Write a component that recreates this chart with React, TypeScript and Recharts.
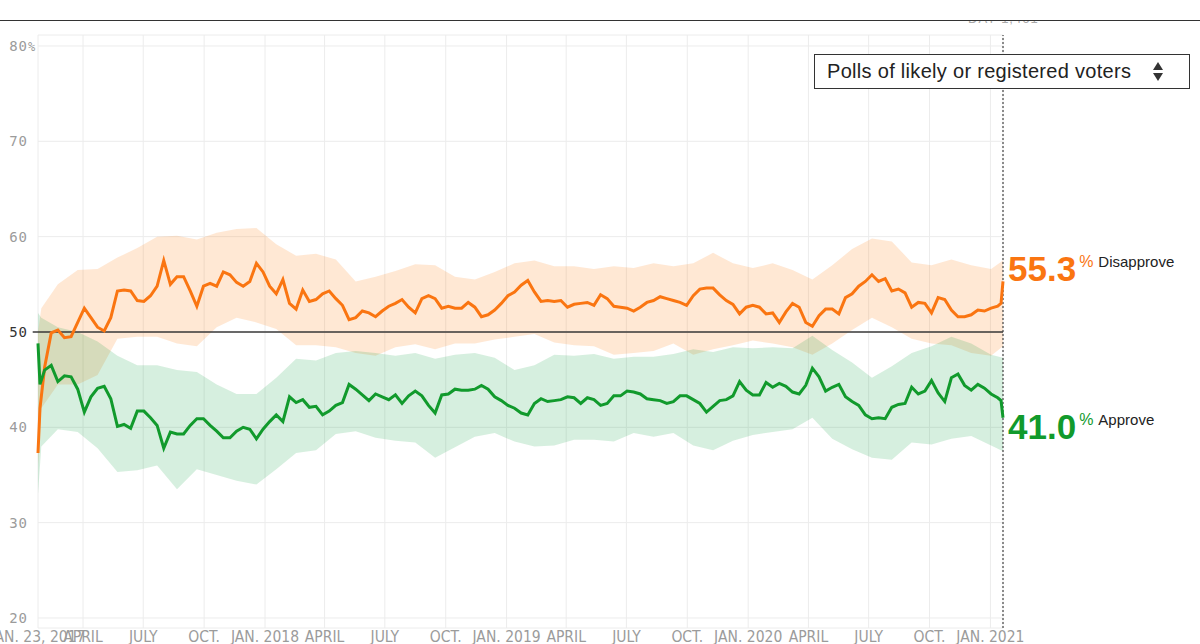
import { ComposedChart, Line, Area, XAxis, YAxis, CartesianGrid, ReferenceLine, ReferenceDot } from "recharts";

// days since Jan. 23, 2017
const lineDays = [
  0, 3, 10, 20, 30, 40, 50, 60, 70, 80,
  90, 100, 110, 120, 130, 140, 150, 160, 170, 180,
  190, 200, 210, 220, 230, 240, 250, 260, 270, 280,
  290, 300, 310, 320, 330, 340, 350, 360, 370, 380,
  390, 400, 410, 420, 430, 440, 450, 460, 470, 480,
  490, 500, 510, 520, 530, 540, 550, 560, 570, 580,
  590, 600, 610, 620, 630, 640, 650, 660, 670, 680,
  690, 700, 710, 720, 730, 740, 750, 760, 770, 780,
  790, 800, 810, 820, 830, 840, 850, 860, 870, 880,
  890, 900, 910, 920, 930, 940, 950, 960, 970, 980,
  990, 1000, 1010, 1020, 1030, 1040, 1050, 1060, 1070, 1080,
  1090, 1100, 1110, 1120, 1130, 1140, 1150, 1160, 1170, 1180,
  1190, 1200, 1210, 1220, 1230, 1240, 1250, 1260, 1270, 1280,
  1290, 1300, 1310, 1320, 1330, 1340, 1350, 1360, 1370, 1380,
  1390, 1400, 1410, 1420, 1430, 1440, 1450, 1455, 1458,
];

const disapprove = [
  37.3, 42.0, 46.3, 49.9, 50.2, 49.4, 49.5, 51.0, 52.5, 51.5,
  50.5, 50.1, 51.5, 54.3, 54.4, 54.3, 53.3, 53.2, 53.8, 54.8,
  57.5, 55.0, 55.8, 55.8, 54.3, 52.7, 54.8, 55.1, 54.8, 56.3,
  56.0, 55.2, 54.8, 55.3, 57.2, 56.3, 54.8, 54.0, 55.5, 53.0,
  52.4, 54.4, 53.2, 53.4, 54.0, 54.3, 53.5, 52.8, 51.3, 51.5,
  52.2, 52.0, 51.6, 52.2, 52.7, 53.0, 53.4, 52.6, 52.0, 53.5,
  53.8, 53.5, 52.5, 52.7, 52.5, 52.5, 53.1, 52.6, 51.6, 51.8,
  52.3, 53.0, 53.8, 54.2, 54.9, 55.4, 54.2, 53.2, 53.3, 53.2,
  53.3, 52.6, 52.9, 53.0, 53.1, 52.8, 53.9, 53.5, 52.7, 52.6,
  52.5, 52.2, 52.6, 53.1, 53.3, 53.7, 53.5, 53.3, 53.1, 52.8,
  53.8, 54.5, 54.6, 54.6, 53.9, 53.3, 52.9, 51.9, 52.6, 52.8,
  52.6, 51.9, 52.0, 51.0, 52.1, 53.0, 52.6, 51.0, 50.6, 51.7,
  52.4, 52.4, 51.9, 53.6, 54.0, 54.8, 55.3, 56.0, 55.3, 55.6,
  54.3, 54.5, 54.1, 52.6, 53.1, 53.0, 52.0, 53.6, 53.4, 52.3,
  51.6, 51.6, 51.8, 52.3, 52.2, 52.5, 52.7, 53.0, 55.3,
];

const approve = [
  48.8, 44.5, 46.0, 46.5, 44.8, 45.4, 45.3, 44.0, 41.6, 43.2,
  44.1, 44.3, 43.0, 40.1, 40.3, 39.9, 41.7, 41.7, 41.0, 40.2,
  37.8, 39.5, 39.3, 39.3, 40.2, 40.9, 40.9, 40.2, 39.6, 38.9,
  38.9, 39.6, 40.0, 39.8, 38.8, 39.8, 40.6, 41.3, 40.6, 43.2,
  42.6, 42.9, 42.1, 42.2, 41.3, 41.7, 42.3, 42.6, 44.5, 44.0,
  43.4, 42.8, 43.5, 43.2, 42.9, 43.4, 42.5, 43.3, 43.8, 43.3,
  42.3, 41.5, 43.4, 43.5, 44.0, 43.9, 43.9, 44.0, 44.4, 44.0,
  43.2, 42.8, 42.3, 42.0, 41.5, 41.3, 42.5, 43.0, 42.7, 42.8,
  42.9, 43.2, 43.1, 42.5, 43.1, 42.9, 42.3, 42.5, 43.3, 43.3,
  43.8, 43.7, 43.5, 43.0, 42.9, 42.8, 42.5, 42.7, 43.3, 43.3,
  42.9, 42.5, 41.6, 42.2, 42.8, 42.9, 43.3, 44.8, 43.9, 43.4,
  43.4, 44.7, 44.2, 44.6, 44.3, 43.7, 43.5, 44.4, 46.2, 45.3,
  43.8, 44.2, 44.5, 43.2, 42.7, 42.3, 41.3, 40.9, 41.0, 40.9,
  42.1, 42.4, 42.5, 44.2, 43.5, 43.8, 44.9, 43.6, 42.7, 45.2,
  45.6, 44.4, 43.9, 44.5, 44.1, 43.5, 43.1, 42.8, 41.0,
];

// uncertainty bands, coarser sampling
const bandDays = [
  0, 5, 30, 60, 90, 120, 150, 180, 210, 240, 270,
  300, 330, 360, 390, 420, 450, 480, 510, 540, 570,
  600, 630, 660, 690, 720, 750, 780, 810, 840, 870,
  900, 930, 960, 990, 1020, 1050, 1080, 1110, 1140, 1170,
  1200, 1230, 1260, 1290, 1320, 1350, 1380, 1410, 1440, 1458,
];

const disapproveHigh = [
  50.0, 52.5, 55.0, 56.5, 56.6, 57.8, 58.8, 60.0, 60.1, 59.7, 60.4,
  60.8, 60.9, 59.2, 58.0, 58.2, 57.6, 55.3, 55.8, 56.4, 57.1,
  57.0, 55.8, 55.5, 56.3, 57.2, 57.5, 56.9, 56.9, 56.6, 56.9,
  56.7, 57.2, 56.9, 57.2, 58.3, 57.2, 56.7, 57.2, 56.5, 55.5,
  57.0, 58.7, 59.8, 59.5, 57.3, 57.0, 57.6, 57.0, 56.6, 57.5,
];

const disapproveLow = [
  36.0, 42.0, 44.5, 44.5, 45.5, 49.3, 49.5, 49.5, 48.8, 48.5, 50.5,
  51.5, 51.0, 50.3, 48.6, 48.6, 48.4, 47.8, 47.5, 48.4, 48.7,
  48.2, 48.8, 48.8, 49.2, 49.5, 49.8, 48.9, 48.6, 48.5, 47.6,
  47.8, 48.0, 48.8, 47.6, 48.2, 48.6, 49.1, 48.8, 48.4, 47.6,
  48.8, 50.2, 51.5, 50.5, 49.3, 48.8, 48.6, 47.8, 47.5, 48.5,
];

const approveHigh = [
  52.0, 51.5, 50.5, 50.0, 49.0, 47.5, 46.5, 46.5, 46.0, 45.8, 44.5,
  43.5, 43.5, 45.2, 47.2, 47.0, 47.8, 48.0, 47.8, 47.5, 47.8,
  47.2, 47.6, 47.8, 47.3, 46.0, 46.5, 47.6, 47.5, 47.7, 47.2,
  47.4, 47.4, 47.7, 48.2, 47.9, 48.4, 48.3, 48.4, 48.3, 49.6,
  48.1, 46.8, 45.2, 46.4, 47.8, 48.5, 49.5, 48.8, 47.6, 47.3,
];

const approveLow = [
  33.0, 38.0, 39.8, 39.5, 37.8, 35.3, 35.5, 36.0, 33.5, 35.6, 35.0,
  34.4, 34.0, 35.6, 37.3, 37.6, 39.3, 39.6, 38.9, 38.6, 38.4,
  36.8, 37.9, 39.0, 39.4, 38.5, 38.0, 38.1, 38.7, 38.7, 38.5,
  39.4, 39.0, 39.4, 38.1, 37.6, 38.6, 39.2, 39.5, 39.8, 41.0,
  38.8, 37.7, 36.8, 36.6, 38.4, 38.2, 38.8, 39.1, 38.1, 37.5,
];

const tickDates = [
  "2017-01-23", "2017-04-01", "2017-07-01", "2017-10-01",
  "2018-01-01", "2018-04-01", "2018-07-01", "2018-10-01",
  "2019-01-01", "2019-04-01", "2019-07-01", "2019-10-01",
  "2020-01-01", "2020-04-01", "2020-07-01", "2020-10-01",
  "2021-01-01",
];
const tickLabels = [
  "JAN. 23, 2017", "APRIL", "JULY", "OCT.",
  "JAN. 2018", "APRIL", "JULY", "OCT.",
  "JAN. 2019", "APRIL", "JULY", "OCT.",
  "JAN. 2020", "APRIL", "JULY", "OCT.",
  "JAN. 2021",
];
const yTicks = [20, 30, 40, 50, 60, 70, 80];

const START = Date.UTC(2017, 0, 23);
const dayOf = (s: string) => Math.round((Date.parse(s + "T00:00:00Z") - START) / 86400000);
const xTicks = tickDates.map(dayOf);

const lineData = lineDays.map((d, i) => ({ day: d, approve: approve[i], disapprove: disapprove[i] }));
const bandData = bandDays.map((d, i) => ({
  day: d,
  dis: [disapproveLow[i], disapproveHigh[i]],
  app: [approveLow[i], approveHigh[i]],
}));

const ORANGE = "#fa7511";
const GREEN = "#119a2c";
const GRAY = "#9b9b9b";
const lastDay = lineDays[lineDays.length - 1];
const lastDis = disapprove[disapprove.length - 1];
const lastApp = approve[approve.length - 1];

function XTick({ x, y, payload }: any) {
  const i = xTicks.indexOf(payload.value);
  return (
    <text
      x={x}
      y={y}
      dy={14}
      textAnchor="middle"
      fill={GRAY}
      fontSize={15.5}
      fontFamily="'Liberation Sans Narrow', 'DejaVu Sans Condensed', sans-serif"
    >
      {tickLabels[i]}
    </text>
  );
}

function YTick({ x, y, payload }: any) {
  const font = "'DejaVu Sans Mono', monospace";
  const color = payload.value === 50 ? "#333" : GRAY;
  return (
    <g>
      <text x={x - 10} y={y} dy={5} textAnchor="end" fill={color} fontSize={14} letterSpacing={1} fontFamily={font}>
        {payload.value}
      </text>
      {payload.value === 80 && (
        <text x={x - 10} y={y} dy={5} fill={GRAY} fontSize={12} fontFamily={font}>
          %
        </text>
      )}
    </g>
  );
}

const endLabel = (value: number, word: string, color: string, below: boolean) => (p: any) => {
  const vb = p.viewBox || p;
  const x = vb.x + 5;
  const base = below ? vb.y + 21 : vb.y;
  return (
    <text x={x} y={base} fontFamily="'Liberation Sans', Arial, sans-serif">
      <tspan fontSize={35} fontWeight={700} fill={color}>
        {value.toFixed(1)}
      </tspan>
      <tspan dx={3} dy={-14} fontSize={16} fill={color}>
        %
      </tspan>
      <tspan dx={5} fontSize={15} fill="#222">
        {word}
      </tspan>
    </text>
  );
};

export default function App() {
  return (
    <div style={{ position: "absolute", left: 0, top: 0, width: 1200, height: 644, background: "#fff", overflow: "hidden" }}>
      {/* header rule with clipped day counter */}
      <div style={{ position: "absolute", left: 968, top: 21, width: 70, height: 4, overflow: "hidden" }}>
        <div style={{ position: "absolute", top: -10, left: 0, fontSize: 13, color: "#aaa", fontFamily: "'Liberation Sans Narrow', sans-serif", letterSpacing: 1, whiteSpace: "nowrap" }}>
          DAY 1,461
        </div>
      </div>
      <div style={{ position: "absolute", left: 0, top: 19.5, width: 1200, height: 1.5, background: "#333" }} />

      <ComposedChart width={1200} height={644} data={lineData} margin={{ top: 35, right: 197, bottom: 0, left: 0 }}>
        <CartesianGrid stroke="#ececec" strokeWidth={1} />
        <XAxis
          dataKey="day"
          type="number"
          domain={[0, 1458]}
          ticks={xTicks}
          interval={0}
          height={16}
          axisLine={false}
          tickLine={false}
          tickSize={0}
          tickMargin={0}
          tick={<XTick />}
        />
        <YAxis
          type="number"
          domain={[18.95, 81.15]}
          ticks={yTicks}
          allowDataOverflow
          width={38}
          axisLine={false}
          tickLine={false}
          tickSize={0}
          tickMargin={0}
          tick={<YTick />}
        />
        <Area
          data={bandData}
          dataKey="dis"
          type="linear"
          stroke="none"
          fill="#ff7400"
          fillOpacity={0.17}
          isAnimationActive={false}
          activeDot={false}
        />
        <Area
          data={bandData}
          dataKey="app"
          type="linear"
          stroke="none"
          fill="#009a35"
          fillOpacity={0.16}
          isAnimationActive={false}
          activeDot={false}
        />
        <ReferenceLine
          segment={[{ x: -8, y: 50 }, { x: lastDay, y: 50 }]}
          ifOverflow="visible"
          stroke="#3a3a3a"
          strokeWidth={1.3}
        />
        <ReferenceLine x={lastDay} stroke="#444" strokeWidth={1.2} strokeDasharray="2 2" />
        <Line
          dataKey="disapprove"
          type="linear"
          stroke={ORANGE}
          strokeWidth={3}
          dot={false}
          activeDot={false}
          isAnimationActive={false}
        />
        <Line
          dataKey="approve"
          type="linear"
          stroke={GREEN}
          strokeWidth={3}
          dot={false}
          activeDot={false}
          isAnimationActive={false}
        />
        <ReferenceDot x={lastDay} y={lastDis} r={0} ifOverflow="visible" label={endLabel(lastDis, "Disapprove", ORANGE, false)} />
        <ReferenceDot x={lastDay} y={lastApp} r={0} ifOverflow="visible" label={endLabel(lastApp, "Approve", GREEN, true)} />
      </ComposedChart>

      {/* poll filter dropdown */}
      <div
        style={{
          position: "absolute",
          left: 814,
          top: 54,
          width: 362,
          height: 33,
          border: "1.5px solid #333",
          background: "#fff",
          fontFamily: "'Liberation Sans', Arial, sans-serif",
          fontSize: 20,
          color: "#222",
          display: "flex",
          alignItems: "center",
          paddingLeft: 12,
          boxSizing: "content-box",
          letterSpacing: 0.3,
        }}
      >
        Polls of likely or registered voters
        <svg width={12} height={20} style={{ position: "absolute", left: 337, top: 7 }}>
          <polygon points="6,0 11,8 1,8" fill="#333" />
          <polygon points="1,11 11,11 6,19" fill="#333" />
        </svg>
      </div>
    </div>
  );
}
